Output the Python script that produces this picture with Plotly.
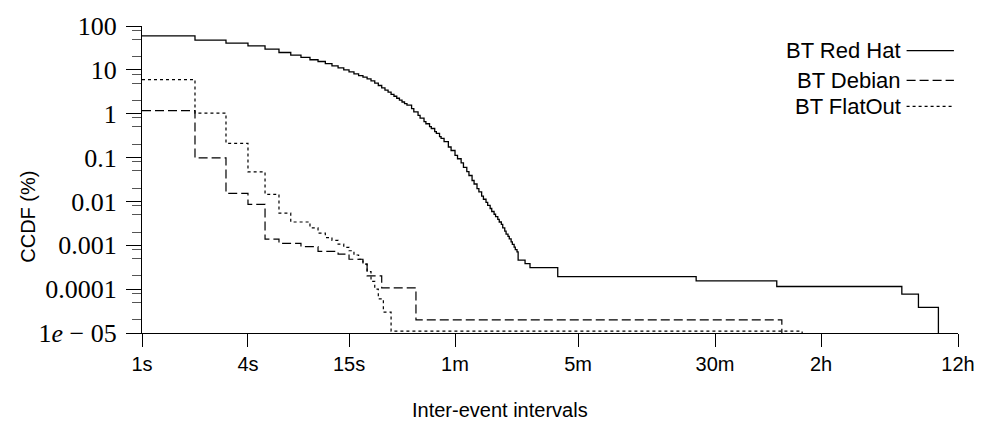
import plotly.graph_objects as go

# ---------------- data ----------------
# inter-event interval (seconds) and CCDF (%) ; step curves
FLOOR = 1e-7  # CCDF falls to zero (below the visible range)

redhat_t = [1, 2, 3, 4, 5, 6, 7, 8, 9, 10, 11, 12, 13, 14, 15, 16, 17, 18, 19, 20,
            21, 22, 23, 24, 25, 26, 27, 28, 29, 30, 31, 32, 34, 35, 37, 38, 40, 41,
            43, 44, 46, 47, 49, 50, 52, 55, 57, 60, 62, 65, 67, 70, 72, 75, 77, 80,
            82, 85, 87, 90, 92, 95, 97, 100, 102, 105, 107, 110, 112, 115, 117, 120,
            122, 125, 127, 130, 132, 135, 137, 150, 160, 230,
            1406, 4036, 20720, 25750, 33430]
redhat_v = [59.3, 47.4, 40.5, 35.2, 29.6, 24.9, 21.6, 19.2, 17.0, 15.5, 13.8, 12.3, 11.1,
            10.0, 9.0, 8.1, 7.4, 6.8, 6.2, 5.6,
            5.0, 4.4, 3.9, 3.45, 3.1, 2.75, 2.5, 2.25, 2.05, 1.85, 1.7, 1.57, 1.3, 1.1,
            0.92, 0.79, 0.66, 0.59, 0.51, 0.46, 0.39, 0.355, 0.30, 0.275, 0.23, 0.174,
            0.145, 0.112, 0.094, 0.076, 0.060, 0.048, 0.039, 0.030, 0.025, 0.0195,
            0.0165, 0.0132, 0.0112, 0.0095, 0.0081, 0.0069, 0.0059, 0.0051, 0.0045,
            0.0039, 0.0034, 0.0030, 0.0025, 0.0021, 0.0018, 0.0016, 0.0014, 0.0012,
            0.00105, 0.00091, 0.0008, 0.00071, 0.00046, 0.00038, 0.00031, 0.000192,
            0.000154, 0.000115, 0.000077, 0.0000385, FLOOR]

debian_t = [1, 2, 3, 4, 5, 6, 8, 10, 13, 15, 18, 19, 23, 36, 4313]
debian_v = [1.18, 0.098, 0.0153, 0.0086, 0.00138, 0.0011, 0.00093, 0.00073, 0.00063,
            0.00048, 0.00037, 0.0002, 0.000107, 0.00002, FLOOR]

flatout_t = [1, 2, 3, 4, 5, 6, 7, 9, 10, 11, 12, 13, 14, 15, 16, 17, 18, 19, 20, 21,
             22, 23.5, 26, 5623]
flatout_v = [6.0, 1.03, 0.21, 0.047, 0.0145, 0.0054, 0.0034, 0.0025, 0.0019, 0.0015,
             0.0013, 0.00106, 0.0009, 0.00075, 0.0006, 0.00048, 0.00037, 0.00025,
             0.00015, 0.0001, 0.00006, 0.00003, 0.000011, FLOOR]

series_names = ["BT Red Hat", "BT Debian", "BT FlatOut"]

x_tickvals = [1, 4, 15, 60, 300, 1800, 7200, 43200]
x_ticktext = ["1s", "4s", "15s", "1m", "5m", "30m", "2h", "12h"]

y_tickvals = [1e-5, 1e-4, 1e-3, 1e-2, 1e-1, 1, 10, 100]
y_ticktext = ["1<i>e</i> − 05", "0.0001", "0.001", "0.01", "0.1", "1", "10", "100"]
y_minor = [m * 10.0 ** k for k in range(-5, 2) for m in (2, 5, 8)]

x_title = "Inter-event intervals"
y_title = "CCDF (%)"

# ---------------- figure ----------------
SANS = "Liberation Sans, Arial, sans-serif"
SERIF = "Liberation Serif, Times New Roman, serif"

styles = [dict(dash="solid", width=1.3),
          dict(dash="9px,4px", width=1.2),
          dict(dash="3px,3px", width=1.2)]

fig = go.Figure()
for name, t, v, st in zip(series_names,
                          [redhat_t, debian_t, flatout_t],
                          [redhat_v, debian_v, flatout_v], styles):
    fig.add_trace(go.Scatter(x=t, y=v, mode="lines", name=name,
                             line=dict(color="black", shape="hv", **st),
                             showlegend=False))

fig.update_layout(
    width=994, height=425,
    margin=dict(l=142, r=36, t=24, b=92),
    paper_bgcolor="white", plot_bgcolor="white",
    xaxis=dict(type="log", range=[0, 4.6355], tickmode="array",
               tickvals=x_tickvals, ticktext=x_ticktext,
               ticks="outside", ticklen=13, tickcolor="black", tickwidth=1,
               showline=True, linecolor="black", linewidth=1.2,
               showgrid=False, zeroline=False,
               tickfont=dict(family=SANS, size=20, color="black")),
    yaxis=dict(type="log", range=[-5, 2], tickmode="array",
               tickvals=y_tickvals, ticktext=y_ticktext,
               ticks="outside", ticklen=15, tickcolor="black", tickwidth=1,
               minor=dict(tickmode="array", tickvals=y_minor, ticks="outside",
                          ticklen=9, tickcolor="#555", tickwidth=1, showgrid=False),
               showline=True, linecolor="black", linewidth=1.2,
               showgrid=False, zeroline=False, ticklabelstandoff=4,
               tickfont=dict(family=SERIF, size=26, color="black")),
)

# axis titles (placed like in the reference)
fig.add_annotation(x=(500 - 142) / 816, y=-(410 - 333) / 309, xref="paper", yref="paper",
                   text=x_title, showarrow=False, xanchor="center", yanchor="middle",
                   font=dict(family=SANS, size=20, color="black"))
fig.add_annotation(x=-(142 - 28) / 816, y=(333 - 216) / 309, xref="paper", yref="paper",
                   text=y_title, showarrow=False, textangle=-90,
                   xanchor="center", yanchor="middle",
                   font=dict(family=SANS, size=20, color="black"))

# legend: right-aligned labels with line samples to their right
leg_rows = [0.92, 0.823, 0.738]
for name, st, yy in zip(series_names, styles, leg_rows):
    fig.add_annotation(x=0.932, y=yy, xref="paper", yref="paper",
                       text=name, showarrow=False, xanchor="right", yanchor="middle",
                       font=dict(family=SANS, size=22, color="black"))
    fig.add_shape(type="line", xref="paper", yref="paper",
                  x0=0.937, x1=0.995, y0=yy, y1=yy,
                  line=dict(color="black", width=st["width"], dash=st["dash"]))

fig.write_html("out.html")
